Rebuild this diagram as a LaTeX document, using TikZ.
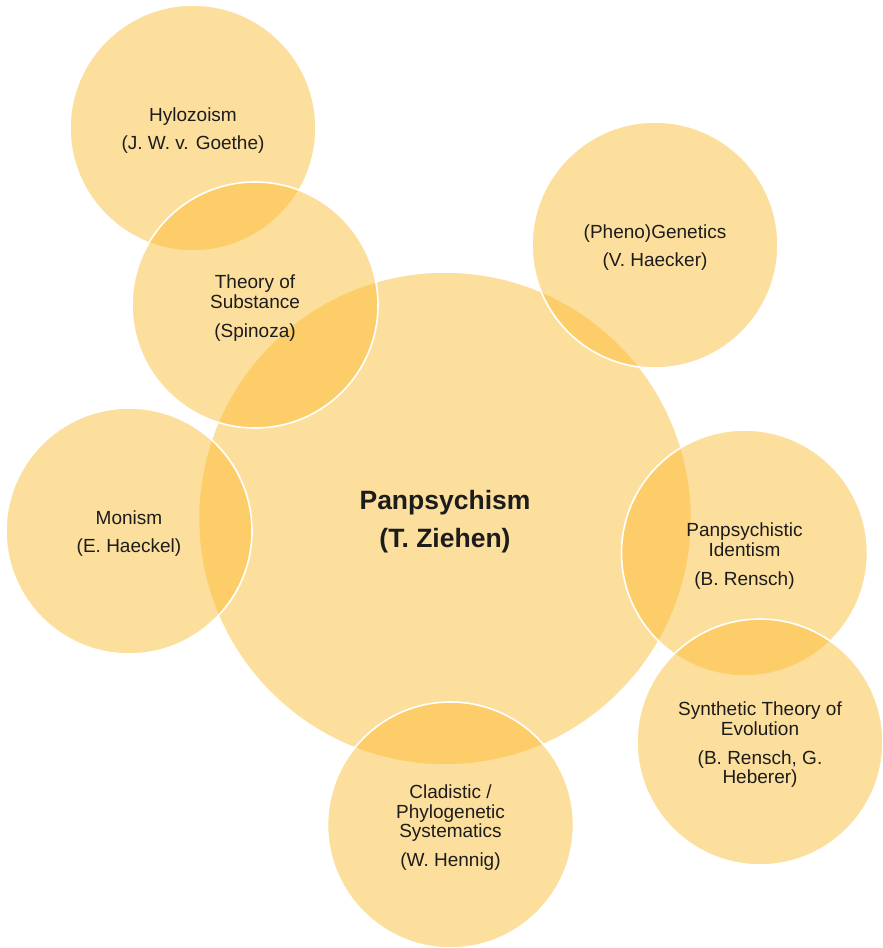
\documentclass[tikz,border=0pt]{standalone}
\usepackage{fontspec}
\setmainfont{Liberation Sans}
\definecolor{gold}{RGB}{251,186,46}
\definecolor{ink}{RGB}{28,28,28}
\begin{document}
\begin{tikzpicture}[x=1pt,y=-1pt,
  bubble/.style={circle, minimum size=246pt, inner sep=0pt,
    fill=gold, fill opacity=0.47, draw=white, line width=1.6pt},
  hub/.style={bubble, minimum size=493pt},
  caption/.style={text=ink, align=center, inner sep=0pt,
    font=\fontsize{19}{19.5}\selectfont},
  hubcaption/.style={caption, font=\fontsize{26.5}{38}\selectfont\bfseries}]
\useasboundingbox (0,0) rectangle (883,948);
% circles: the hub goes early so the surrounding ideas overlap it
\node[bubble] (hylo) at (193,128) {};
\node[hub] (pan) at (445,518.5) {};
\node[bubble] (subst) at (255,305) {};
\node[bubble] (gen) at (655,245) {};
\node[bubble] (mon) at (129,531) {};
\node[bubble] (ident) at (744.5,553) {};
\node[bubble] (synth) at (760,742) {};
\node[bubble] (clad) at (450.5,825) {};
% captions
\node[caption] (hylo-t) at ([yshift=-3pt]hylo.center) {Hylozoism\\[8.5pt](J. W. v. Goethe)};
\node[hubcaption] (pan-t) at ([yshift=-3pt]pan.center) {Panpsychism\\(T. Ziehen)};
\node[caption] (subst-t) at ([yshift=-3pt]subst.center) {Theory of\\Substance\\[9.5pt](Spinoza)};
\node[caption] (gen-t) at ([yshift=-3pt]gen.center) {(Pheno)Genetics\\[8.5pt](V. Haecker)};
\node[caption] (mon-t) at ([yshift=-3pt]mon.center) {Monism\\[8.5pt](E. Haeckel)};
\node[caption] (ident-t) at ([yshift=-3pt]ident.center) {Panpsychistic\\Identism\\[9.5pt](B. Rensch)};
\node[caption] (synth-t) at ([yshift=-3pt]synth.center) {Synthetic Theory of\\Evolution\\[9.5pt](B. Rensch, G.\\Heberer)};
\node[caption] (clad-t) at ([yshift=-3pt]clad.center) {Cladistic /\\Phylogenetic\\Systematics\\[9.5pt](W. Hennig)};
\end{tikzpicture}
\end{document}
